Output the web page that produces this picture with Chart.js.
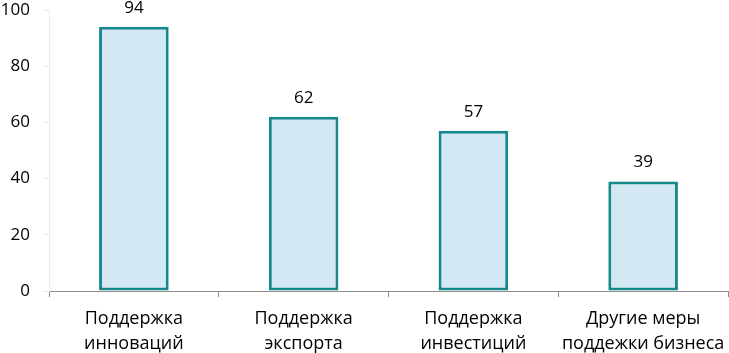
<!DOCTYPE html>
<html>
<head>
<meta charset="utf-8">
<script src="https://cdn.jsdelivr.net/npm/chart.js@4"></script>
<style>
  html, body { margin: 0; padding: 0; background: #fff; }
  #wrap { width: 729px; height: 353px; }
</style>
</head>
<body>
<div id="wrap"><canvas id="grafico" width="729" height="353"></canvas></div>
<script>
const categorias = [
  ['Поддержка', 'инноваций'],
  ['Поддержка', 'экспорта'],
  ['Поддержка', 'инвестиций'],
  ['Другие меры', 'поддежки бизнеса']
];
const valores = [94, 62, 57, 39];
const ticksY = [0, 20, 40, 60, 80, 100];

const fonte = '"Open Sans", sans-serif';

// rótulos de valor acima das barras
const rotulos = {
  id: 'rotulos',
  afterDatasetsDraw(chart) {
    const c = chart.ctx;
    const meta = chart.getDatasetMeta(0);
    c.save();
    c.font = '17px ' + fonte;
    c.fillStyle = '#000';
    c.textAlign = 'center';
    c.textBaseline = 'middle';
    meta.data.forEach((bar, i) => {
      c.fillText(String(valores[i]), bar.x, bar.y - 19);
    });
    c.restore();
  }
};

const ctx = document.getElementById('grafico').getContext('2d');
new Chart(ctx, {
  type: 'bar',
  data: {
    labels: categorias,
    datasets: [{
      data: valores,
      backgroundColor: '#d3e8f2',
      borderColor: '#16878a',
      borderWidth: 3,
      borderSkipped: false,
      categoryPercentage: 1,
      barPercentage: 0.41
    }]
  },
  options: {
    responsive: false,
    animation: false,
    layout: { padding: { top: 10, right: 1, left: 0, bottom: 0 } },
    plugins: {
      legend: { display: false },
      tooltip: { enabled: false }
    },
    scales: {
      x: {
        grid: {
          display: true,
          offset: true,
          drawOnChartArea: false,
          tickLength: 6,
          color: '#8c8c8c'
        },
        border: { display: true, color: '#8c8c8c', width: 1 },
        ticks: {
          color: '#000',
          font: { family: fonte, size: 18, lineHeight: 1.4 },
          padding: 9,
          maxRotation: 0,
          autoSkip: false
        },
        afterFit(axis) {
          axis.height = 62;
          axis.paddingLeft = 0;
          axis.paddingRight = 0;
        }
      },
      y: {
        min: 0,
        max: 100,
        afterBuildTicks(axis) { axis.ticks = ticksY.map(v => ({ value: v })); },
        grid: {
          display: true,
          drawOnChartArea: false,
          tickLength: 5,
          color: '#e6e6e6'
        },
        border: { display: true, color: '#ececec', width: 1, dash: [2, 2] },
        ticks: {
          color: '#000',
          font: { family: fonte, size: 17 },
          padding: 14
        },
        afterFit(axis) {
          axis.width = 49;
          axis.paddingTop = 0;
          axis.paddingBottom = 0;
        }
      }
    }
  },
  plugins: [rotulos]
});
</script>
</body>
</html>
